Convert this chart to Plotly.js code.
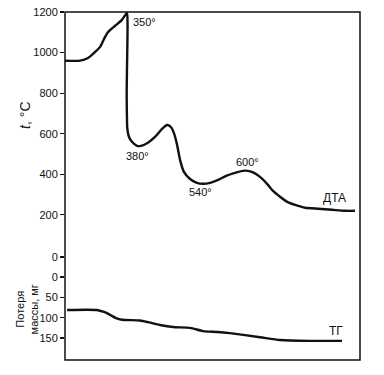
<!DOCTYPE html>
<html>
<head>
<meta charset="utf-8">
<script src="https://cdn.plot.ly/plotly-3.0.1.min.js"></script>
<style>html,body{margin:0;padding:0;background:#fff;}#chart{width:384px;height:375px;}</style>
</head>
<body>
<div id="chart"></div>
<script>
// DTA curve: time (arbitrary units) vs temperature, °C
const dtaTime = [0, 5.1, 7.8, 10.2, 11.9, 12.9, 13.6, 14.6, 16.9, 19.3, 21.0, 21.2, 21.1, 20.9, 21.0, 21.1, 21.7, 22.7, 24.4, 25.8, 28.1, 30.5, 32.9, 34.6, 35.9, 36.9, 38.0, 39.0, 40.3, 42.4, 44.7, 46.8, 49.2, 51.9, 54.6, 57.6, 60.3, 62.0, 64.1, 66.1, 68.5, 70.5, 72.9, 75.3, 78.0, 81.4, 85.8, 90.5, 94.9, 98.3];
const dtaTemp = [960, 960, 973, 1003, 1028, 1057, 1077, 1101, 1131, 1161, 1195, 1150, 1000, 800, 680, 629, 584, 560, 540, 540, 555, 584, 624, 643, 633, 604, 545, 471, 412, 377, 358, 353, 358, 372, 392, 407, 417, 417, 407, 387, 353, 318, 289, 264, 249, 235, 230, 225, 220, 220];
// TG curve: time vs mass loss, mg
const tgTime = [0.7, 10.8, 13.2, 15.3, 17.3, 19.3, 25.4, 28.1, 32.2, 36.6, 42.4, 46.8, 51.9, 55.9, 66.1, 72.9, 83.1, 93.9];
const tgLoss = [81, 81, 86, 93, 101, 105, 107, 111, 118, 123, 125, 133, 135, 138, 148, 155, 157, 157];
// tick labels
const tempTicks = [200, 400, 600, 800, 1000, 1200];
const lossTickVals = [-49, 0, 50, 100, 150];
const lossTickText = ["0", "0", "50", "100", "150"];
// point labels
const peakX = [26.8, 24.7, 45.8, 62.0];
const peakY = [1151, 491, 313, 461];
const peakText = ["350°", "380°", "540°", "600°"];

const font = {family: "Liberation Sans, Arial, sans-serif", size: 11, color: "#111"};

const traces = [
  {x: dtaTime, y: dtaTemp, mode: "lines", line: {color: "#111", width: 2.4, shape: "spline", smoothing: 0.6}, xaxis: "x", yaxis: "y", hoverinfo: "skip"},
  {x: tgTime, y: tgLoss, mode: "lines", line: {color: "#111", width: 2.4, shape: "spline", smoothing: 0.6}, xaxis: "x", yaxis: "y2", hoverinfo: "skip"}
];

const annotations = peakText.map((t, i) => ({x: peakX[i], y: peakY[i], xref: "x", yref: "y", text: t, showarrow: false, font: {...font, size: 11}}));
annotations.push({x: 91.5, y: 284, xref: "x", yref: "y", text: "ДТА", showarrow: false, font: {...font, size: 12}});
annotations.push({x: 91.9, y: 133, xref: "x", yref: "y2", text: "ТГ", showarrow: false, font: {...font, size: 12}});
annotations.push({x: -0.136, y: 0.704, xref: "paper", yref: "paper", xanchor: "center", yanchor: "middle", text: "<i>t</i>, °C", textangle: -90, showarrow: false, font: {...font, size: 14}});
annotations.push({x: -0.1305, y: 0.144, xref: "paper", yref: "paper", xanchor: "center", yanchor: "middle", text: "Потеря<br>массы, мг", textangle: -90, showarrow: false, font: {...font, size: 11}});

const layout = {
  width: 384, height: 375,
  margin: {l: 65, r: 24, t: 12, b: 15},
  paper_bgcolor: "#fff", plot_bgcolor: "#fff",
  showlegend: false,
  font: font,
  xaxis: {domain: [0, 1], range: [0, 100], anchor: "y2", showticklabels: false, ticks: "", showgrid: false, zeroline: false, showline: false},
  yaxis: {domain: [0.325, 1], range: [42, 1200], tickvals: tempTicks, ticks: "outside", ticklen: 4, tickwidth: 1.2, tickcolor: "#111", showgrid: false, zeroline: false, showline: false, anchor: "x", tickfont: {...font, size: 11}},
  yaxis2: {domain: [0, 0.325], range: [204, -74], tickvals: lossTickVals, ticktext: lossTickText, ticks: "outside", ticklen: 4, tickwidth: 1.2, tickcolor: "#111", showgrid: false, zeroline: false, showline: false, anchor: "x", tickfont: {...font, size: 11}},
  shapes: [{type: "rect", xref: "paper", yref: "paper", x0: 0, x1: 1, y0: 0, y1: 1, line: {color: "#111", width: 1.5}}],
  annotations: annotations
};

Plotly.newPlot("chart", traces, layout, {staticPlot: true, displayModeBar: false});
</script>
</body>
</html>
